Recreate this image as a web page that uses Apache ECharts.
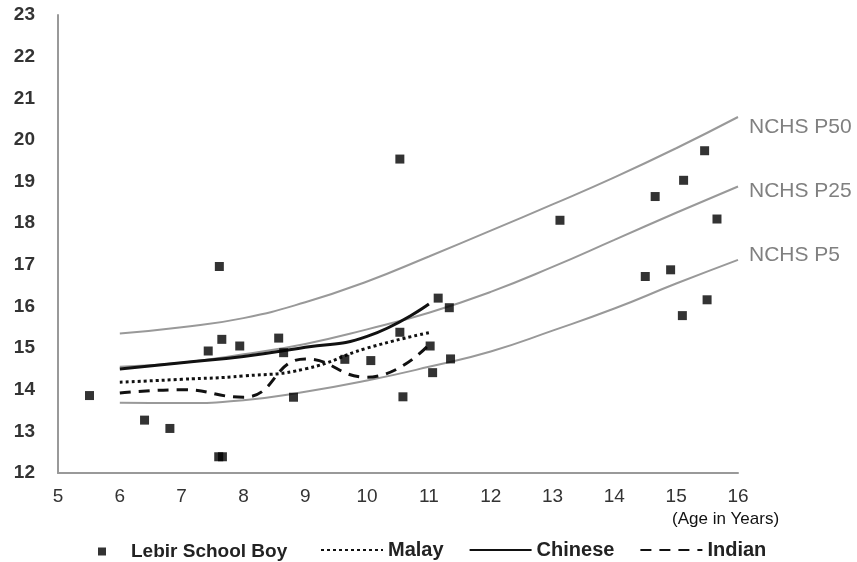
<!DOCTYPE html>
<html>
<head>
<meta charset="utf-8">
<script src="https://cdn.jsdelivr.net/npm/echarts@6/dist/echarts.min.js"></script>
<style>
html,body{margin:0;padding:0;background:#fff;}
#chart{width:857px;height:562px;}
</style>
</head>
<body>
<div id="chart"></div>
<script>
// Ages (years) for the reference / group curves
const curveAges = [6, 7, 8, 9, 10, 11, 12, 13, 14, 15, 16];
const nchsP50 = [15.35, 15.5, 15.72, 16.1, 16.6, 17.2, 17.82, 18.45, 19.1, 19.8, 20.55];
const nchsP25 = [14.55, 14.65, 14.85, 15.1, 15.45, 15.85, 16.35, 16.95, 17.6, 18.25, 18.88];
const nchsP5  = [13.69, 13.68, 13.75, 13.95, 14.22, 14.55, 14.92, 15.42, 15.95, 16.55, 17.12];

const groupAges = [6, 7, 8, 9, 10, 11];
const malay   = [14.18, 14.25, 14.33, 14.5, 15.0, 15.37];
const chinese = [14.5, 14.65, 14.8, 15.02, 15.28, 16.06];
const indian  = [13.92, 14.0, 13.82, 14.74, 14.3, 15.08];

// Lebir School Boy individual points
const boyAges = [5.51, 6.40, 6.81, 7.43, 7.61, 7.65, 7.60, 7.66, 7.94, 8.57, 8.65, 8.81, 9.64, 10.06, 10.53, 10.58, 10.53,
                 11.02, 11.06, 11.15, 11.33, 11.35, 13.12, 14.50, 14.66, 14.91, 15.10, 15.12, 15.46, 15.50, 15.66];
const boyBMI  = [13.86, 13.27, 13.07, 14.93, 16.96, 15.21, 12.39, 12.39, 15.05, 15.24, 14.89, 13.82, 14.73, 14.70, 15.38, 13.83, 19.54,
                 15.05, 14.41, 16.20, 15.97, 14.74, 18.07, 16.72, 18.64, 16.88, 15.78, 19.03, 19.74, 16.16, 18.10];

const xTicks = [5, 16, 1];
const yTicks = [12, 23, 1];

const zip = (xs, ys) => xs.map((x, i) => [x, ys[i]]);

const chart = echarts.init(document.getElementById('chart'));
const font = 'Liberation Sans, Arial, sans-serif';

function nchs(name, data, offY) {
  return {
    name: name, type: 'line', data: zip(curveAges, data), smooth: true,
    symbol: 'none', lineStyle: {color: '#999', width: 2}, itemStyle: {color: '#999'},
    z: 1, silent: true,
    endLabel: {show: true, formatter: '{a}', color: '#808080', fontFamily: font, fontSize: 21, distance: 11, offset: [0, offY]}
  };
}

chart.setOption({
  animation: false,
  grid: {left: 58, right: 119, top: 15, bottom: 89},
  xAxis: {
    type: 'value', min: xTicks[0], max: xTicks[1], interval: xTicks[2],
    axisLine: {lineStyle: {color: '#999', width: 2}},
    axisTick: {show: false}, splitLine: {show: false},
    axisLabel: {color: '#333', fontFamily: font, fontSize: 19, margin: 14},
    name: '(Age in Years)', nameLocation: 'end', nameGap: -66,
    nameTextStyle: {color: '#111', fontFamily: font, fontSize: 17, align: 'left', verticalAlign: 'top', padding: [38, 0, 0, 0]}
  },
  yAxis: {
    type: 'value', min: yTicks[0], max: yTicks[1], interval: yTicks[2],
    axisLine: {show: true, lineStyle: {color: '#999', width: 2}},
    axisTick: {show: false}, splitLine: {show: false},
    axisLabel: {color: '#333', fontFamily: font, fontSize: 19, fontWeight: 'bold', margin: 23}
  },
  legend: [
    {
      data: [{name: 'Lebir School Boy', icon: 'rect'}],
      left: 93, top: 537, itemWidth: 8, itemHeight: 8,
      textStyle: {color: '#222', fontFamily: font, fontSize: 19, fontWeight: 'bold', padding: [0, 0, 0, 20]}
    },
    {
      data: ['Malay', 'Chinese', 'Indian'],
      left: 315, top: 535, itemWidth: 62, itemHeight: 14, itemGap: 25,
      itemStyle: {color: 'rgba(0,0,0,0)', borderWidth: 0, opacity: 0},
      textStyle: {color: '#222', fontFamily: font, fontSize: 20, fontWeight: 'bold'}
    }
  ],
  series: [
    nchs('NCHS P50', nchsP50, 10),
    nchs('NCHS P25', nchsP25, 5),
    nchs('NCHS P5', nchsP5, -5),
    {name: 'Malay', type: 'line', data: zip(groupAges, malay), smooth: true, symbol: 'none',
     lineStyle: {color: '#111', width: 3, type: [3, 3]}, itemStyle: {color: '#111'}, z: 3},
    {name: 'Chinese', type: 'line', data: zip(groupAges, chinese), smooth: true, symbol: 'none',
     lineStyle: {color: '#111', width: 3}, itemStyle: {color: '#111'}, z: 3},
    {name: 'Indian', type: 'line', data: zip(groupAges, indian), smooth: true, symbol: 'none',
     lineStyle: {color: '#111', width: 3, type: [11, 8]}, itemStyle: {color: '#111'}, z: 3},
    {name: 'Lebir School Boy', type: 'scatter', data: zip(boyAges, boyBMI), symbol: 'rect', symbolSize: 9,
     itemStyle: {color: '#000'}, z: 4}
  ]
});
</script>
</body>
</html>
